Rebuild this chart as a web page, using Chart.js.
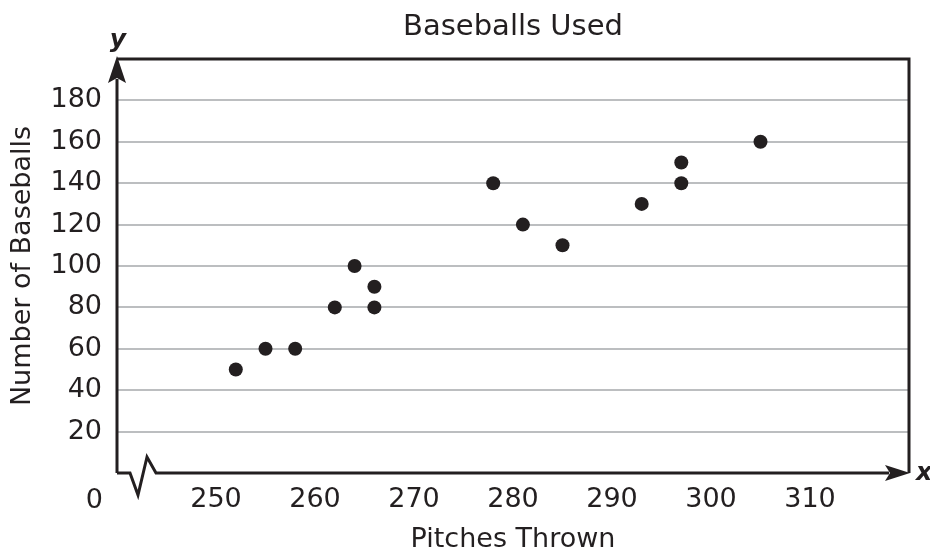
<!DOCTYPE html>
<html>
<head>
<meta charset="utf-8">
<script src="https://cdn.jsdelivr.net/npm/chart.js@4"></script>
<style>
  html, body { margin: 0; padding: 0; background: #fff; }
  #wrap { width: 930px; height: 556px; }
</style>
</head>
<body>
<div id="wrap"><canvas id="c" width="930" height="556"></canvas></div>
<script>
// ---- data ----
const pitchesThrown = [252, 255, 258, 262, 264, 266, 266, 278, 281, 285, 293, 297, 297, 305];
const baseballsUsed = [50, 60, 60, 80, 100, 90, 80, 140, 120, 110, 130, 150, 140, 160];
const xTickLabels = [250, 260, 270, 280, 290, 300, 310];
const yTickLabels = [20, 40, 60, 80, 100, 120, 140, 160, 180];
const chartTitle = 'Baseballs Used';
const xTitle = 'Pitches Thrown';
const yTitle = 'Number of Baseballs';

const INK = '#231f20';
const GRID = '#bcbec0';
const FONT = 'DejaVu Sans';

const points = pitchesThrown.map((x, i) => ({ x: x, y: baseballsUsed[i] }));

const decorPlugin = {
  id: 'decor',
  afterDraw(chart) {
    const ctx = chart.ctx;
    const a = chart.chartArea;
    const L = a.left, R = a.right, T = a.top, B = a.bottom;
    ctx.save();
    ctx.strokeStyle = INK;
    ctx.fillStyle = INK;
    ctx.lineWidth = 3;
    ctx.lineJoin = 'miter';
    // top and right frame
    ctx.beginPath();
    ctx.moveTo(L, T);
    ctx.lineTo(R, T);
    ctx.lineTo(R, B);
    ctx.stroke();
    // y axis
    ctx.beginPath();
    ctx.moveTo(L, B);
    ctx.lineTo(L, T + 20);
    ctx.stroke();
    ctx.beginPath();
    ctx.moveTo(L, T - 3);
    ctx.lineTo(L - 9, T + 24);
    ctx.lineTo(L, T + 19);
    ctx.lineTo(L + 9, T + 24);
    ctx.closePath();
    ctx.fill();
    // x axis with break
    ctx.beginPath();
    ctx.moveTo(L, B);
    ctx.lineTo(L + 13, B);
    ctx.lineTo(L + 21, B + 22);
    ctx.lineTo(L + 30, B - 16);
    ctx.lineTo(L + 39, B);
    ctx.lineTo(R - 20, B);
    ctx.stroke();
    ctx.beginPath();
    ctx.moveTo(R + 1, B);
    ctx.lineTo(R - 24, B - 8);
    ctx.lineTo(R - 19, B);
    ctx.lineTo(R - 24, B + 8);
    ctx.closePath();
    ctx.fill();
    // texts
    ctx.textBaseline = 'alphabetic';
    ctx.textAlign = 'center';
    ctx.font = '29px "' + FONT + '"';
    ctx.fillText(chartTitle, (L + R) / 2, 35);
    ctx.font = '27px "' + FONT + '"';
    ctx.textAlign = 'right';
    ctx.fillText('0', L - 14, 508);
    ctx.font = 'italic bold 25px "' + FONT + '"';
    ctx.textAlign = 'center';
    ctx.fillText('y', L + 1, 47);
    ctx.textAlign = 'left';
    ctx.fillText('x', R + 7, B + 7);
    ctx.restore();
  }
};

new Chart(document.getElementById('c'), {
  type: 'scatter',
  data: {
    datasets: [{
      data: points,
      pointRadius: 7,
      pointHoverRadius: 7,
      pointBackgroundColor: INK,
      pointBorderWidth: 0,
      showLine: false
    }]
  },
  plugins: [decorPlugin],
  options: {
    responsive: false,
    animation: false,
    events: [],
    layout: { padding: { top: 59, right: 21, left: 0, bottom: 0 } },
    plugins: {
      legend: { display: false },
      title: { display: false },
      tooltip: { enabled: false }
    },
    scales: {
      x: {
        type: 'linear',
        min: 240,
        max: 320,
        afterFit(scale) { scale.height = 83; },
        afterBuildTicks(scale) {
          scale.ticks = [240].concat(xTickLabels, [320]).map(v => ({ value: v }));
        },
        ticks: {
          autoSkip: false,
          maxRotation: 0,
          padding: 11,
          color: INK,
          font: { family: FONT, size: 27 },
          callback: (v) => xTickLabels.includes(v) ? String(v) : ''
        },
        grid: { display: false, drawTicks: false },
        border: { display: false },
        title: {
          display: true,
          text: xTitle,
          color: INK,
          font: { family: FONT, size: 27 },
          padding: { top: 0, bottom: 0 }
        }
      },
      y: {
        type: 'linear',
        min: 0,
        max: 200,
        afterFit(scale) { scale.width = 117; },
        afterBuildTicks(scale) {
          scale.ticks = [0].concat(yTickLabels, [200]).map(v => ({ value: v }));
        },
        ticks: {
          autoSkip: false,
          padding: 15,
          color: INK,
          font: { family: FONT, size: 27 },
          callback: (v) => yTickLabels.includes(v) ? String(v) : ''
        },
        grid: {
          display: true,
          drawTicks: false,
          lineWidth: 2,
          color: (c) => (c.tick && yTickLabels.includes(c.tick.value)) ? GRID : 'rgba(0,0,0,0)'
        },
        border: { display: false },
        title: {
          display: true,
          text: yTitle,
          color: INK,
          font: { family: FONT, size: 27 },
          padding: { top: 7, bottom: 0 }
        }
      }
    }
  }
});
</script>
</body>
</html>
